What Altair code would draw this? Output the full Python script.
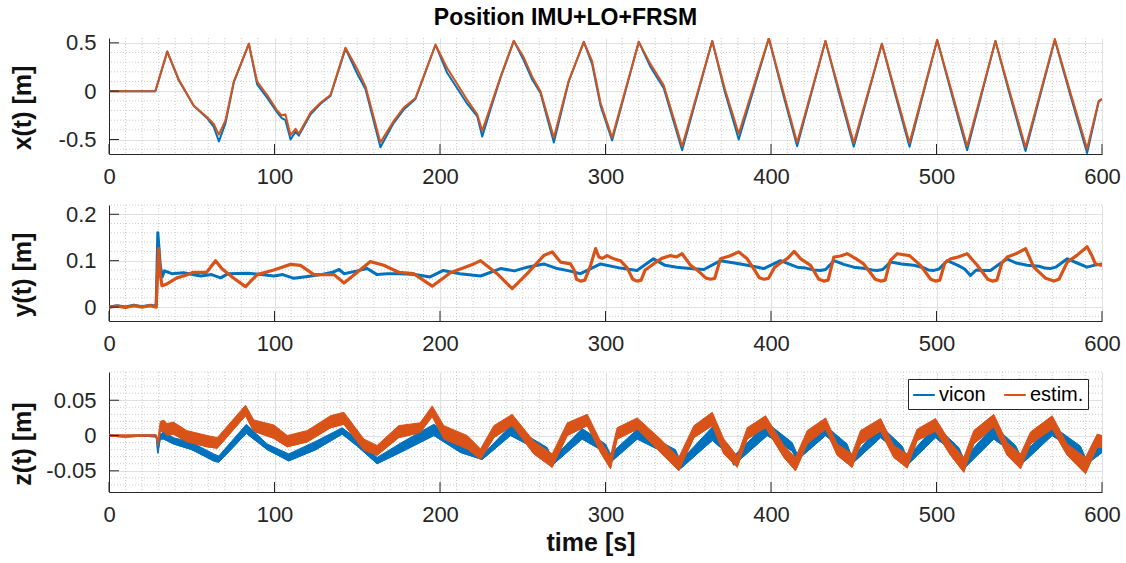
import altair as alt
import pandas as pd

# ---------------- data ----------------
SERIES = ["vicon", "estim."]

# x(t) panel
T_X = [0, 28, 35.2, 42.2, 51.2, 59.3, 63.3, 66.4, 70.4, 75.4, 84.5, 89.5, 95.6, 101.6, 104.4, 106.6,
       109.7, 112.7, 114.7, 121.8, 127.8, 133.8, 142.9, 150, 155, 164, 172, 178.1, 185.2, 197.3, 204.3,
       216.4, 222.5, 225.5, 230.5, 236.6, 244.6, 250.6, 255.7, 260.7, 268.8, 277.8, 286.9, 291.9, 297,
       304, 320.1, 327.2, 335.2, 346.3, 364.5, 372, 380.5, 398.7, 407, 415.8, 432.9, 441, 450, 467,
       475, 483.7, 500.4, 509, 518.5, 535.6, 544, 553.8, 571.5, 581, 591, 598, 600]
VICON_X = [0, 0, 0.41, 0.11, -0.15, -0.28, -0.37, -0.52, -0.33, 0.09, 0.49, 0.07, -0.07, -0.22, -0.28,
           -0.30, -0.50, -0.42, -0.46, -0.24, -0.13, -0.05, 0.44, 0.18, 0.02, -0.58, -0.33, -0.19, -0.08,
           0.48, 0.19, -0.13, -0.26, -0.47, -0.19, 0.14, 0.52, 0.32, 0.12, -0.02, -0.53, 0.10, 0.51, 0.28,
           -0.15, -0.51, 0.51, 0.25, 0.03, -0.61, 0.52, 0.0, -0.50, 0.545, -0.01, -0.57, 0.52, -0.01,
           -0.575, 0.49, -0.03, -0.575, 0.53, -0.02, -0.61, 0.52, -0.02, -0.62, 0.53, -0.05, -0.64,
           -0.11, -0.08]
ESTIM_X = [0, 0, 0.41, 0.12, -0.15, -0.27, -0.34, -0.45, -0.30, 0.10, 0.49, 0.10, -0.04, -0.20, -0.25,
           -0.24, -0.455, -0.39, -0.44, -0.22, -0.12, -0.04, 0.45, 0.23, 0.05, -0.53, -0.31, -0.17, -0.07,
           0.48, 0.24, -0.09, -0.24, -0.41, -0.16, 0.15, 0.52, 0.35, 0.15, 0.0, -0.48, 0.11, 0.51, 0.31,
           -0.12, -0.48, 0.51, 0.28, 0.06, -0.57, 0.52, 0.03, -0.44, 0.55, 0.02, -0.53, 0.52, 0.02,
           -0.535, 0.49, 0.0, -0.535, 0.53, 0.01, -0.57, 0.52, 0.01, -0.58, 0.54, -0.02, -0.595,
           -0.10, -0.08]

# y(t) panel
T_VY = [0, 5, 10, 15, 20, 25, 28.5, 29.5, 31, 32.1, 33.5, 38, 45, 55.3, 62, 67.4, 72, 84, 92, 99.6,
        105, 111.7, 120, 128, 135, 139, 142, 150, 156, 162, 168, 176, 185, 194, 202, 212, 224.5, 236.6,
        245, 252.7, 262.7, 270.8, 278, 284.9, 297, 309, 319, 329, 336, 343, 351, 359.4, 369.5, 381.6,
        389, 395.6,
        405.7, 415.8, 421, 426, 429.9, 433, 438, 444, 450, 457,
        461, 464.2, 467.5, 472.2, 479, 486.3, 492, 495, 498.4, 501.5,
        506.5, 513, 517, 520.5, 524, 529, 532.6, 537, 542.7, 548,
        554.8, 562, 565.5, 568.9, 572, 579, 585, 591, 595, 600]
VICON_Y = [0.0, 0.003, 0.0, 0.004, 0.001, 0.004, 0.002, 0.16, 0.09, 0.065, 0.078, 0.072, 0.074, 0.067,
           0.07, 0.063, 0.072, 0.073, 0.07, 0.067, 0.07, 0.062, 0.066, 0.07, 0.075, 0.081, 0.072, 0.078,
           0.083, 0.07, 0.072, 0.072, 0.07, 0.065, 0.079, 0.072, 0.067, 0.083, 0.078, 0.086, 0.093,
           0.083, 0.078, 0.072, 0.093, 0.084, 0.079, 0.104, 0.09, 0.086, 0.083, 0.081, 0.1, 0.093,
           0.088, 0.083,
           0.1, 0.086, 0.084, 0.08, 0.079, 0.081, 0.1, 0.092, 0.086, 0.083,
           0.08, 0.079, 0.081, 0.097, 0.093, 0.09, 0.085, 0.08, 0.079, 0.082,
           0.1, 0.09, 0.082, 0.068, 0.08, 0.079, 0.079, 0.09, 0.104, 0.095,
           0.09, 0.088, 0.084, 0.083, 0.086, 0.104, 0.095, 0.086, 0.09, 0.093]
T_EY = [0, 5, 10, 15, 20, 25, 28.5, 30, 31, 32, 35, 41, 46, 51, 59, 64.4, 68.4, 75.4, 82.5, 89.5, 99.6,
        109.7, 115.7, 123.8, 136, 142, 150, 158, 166, 175, 184, 195.3, 206.3, 220.4, 224.5, 234.5,
        243.6, 252.7, 262.7, 267.8, 272.8,
        278.9, 281, 282.5, 285, 287.5, 291, 294, 296, 298, 301,
        305, 309, 313, 316.5, 319, 321.5, 324, 329, 334, 339.3,
        343, 346.3, 351.4, 357, 360.5, 363.4, 366, 369.5, 375, 380.5,
        385.6, 390, 393, 395.6, 398.5, 402, 405.7, 410, 414, 418,
        423.9, 428.9, 431.9, 434.5, 438, 442, 446, 451, 456, 463,
        466.2, 469, 472, 476.3, 483.7, 490.3, 496.5, 499.4, 502, 505,
        508.5, 513, 518.5, 524.6, 531, 533.7, 536.5, 539.5, 542.7, 548,
        553.8, 558.8, 566, 570.9, 574, 579, 585, 591, 594, 596,
        600]
ESTIM_Y = [0.0, 0.002, -0.001, 0.003, 0.0, 0.003, 0.0, 0.126, 0.07, 0.046, 0.05, 0.063, 0.068, 0.075,
           0.075, 0.1, 0.082, 0.062, 0.044, 0.07, 0.08, 0.092, 0.09, 0.07, 0.07, 0.052, 0.075, 0.098,
           0.09, 0.075, 0.072, 0.045, 0.074, 0.093, 0.1, 0.072, 0.04, 0.072, 0.111, 0.119, 0.097,
           0.093, 0.08, 0.06, 0.056, 0.058, 0.09, 0.126, 0.108, 0.105, 0.111,
           0.104, 0.1, 0.085, 0.06, 0.056, 0.058, 0.08, 0.093, 0.105, 0.111,
           0.108, 0.115, 0.09, 0.075, 0.063, 0.06, 0.062, 0.104, 0.11, 0.119,
           0.104, 0.08, 0.063, 0.06, 0.062, 0.085, 0.095, 0.105, 0.12, 0.104,
           0.09, 0.06, 0.056, 0.058, 0.108, 0.11, 0.115, 0.105, 0.093, 0.06,
           0.056, 0.058, 0.1, 0.115, 0.111, 0.09, 0.06, 0.056, 0.058, 0.095,
           0.104, 0.108, 0.115, 0.09, 0.06, 0.056, 0.058, 0.095, 0.108, 0.115,
           0.126, 0.086, 0.062, 0.056, 0.06, 0.097, 0.112, 0.13, 0.11, 0.093,
           0.09]

# z(t) panel: the noisy traces read as lower / upper envelopes
T_VZ = [0, 10, 20, 28.5, 29.5, 31, 33, 39, 50, 63.3, 66.3, 83, 95.6, 108.6, 125, 140.9, 150, 162, 176,
        196.3, 212.4, 225.5, 242.6,
        264.8, 267.8, 285.9, 300, 303, 319.2, 342.3, 345.3, 364.5, 374.5, 377.5, 397.7, 412.8, 415.8,
        433, 446, 449, 466.2, 479.3, 482.3, 499.4, 513.5, 516.5, 534.6, 547.8, 550.8, 569.9, 587, 590,
        600]
VICON_Z_LO = [-0.001, -0.002, -0.001, -0.002, -0.025, -0.005, -0.005, -0.012, -0.02, -0.036, -0.038,
              0.003, -0.02, -0.036, -0.02, 0.002, -0.015, -0.04, -0.024, 0.0, -0.024, -0.034, 0.0,
              -0.027, -0.042, -0.005, -0.024, -0.038, -0.005, -0.032, -0.047, -0.007, -0.027, -0.042,
              0.0, -0.022, -0.035, 0.0, -0.026, -0.04, -0.003, -0.027, -0.042, -0.003, -0.03, -0.047,
              -0.005, -0.027, -0.042, 0.0, -0.027, -0.042, -0.024]
VICON_Z_HI = [0.001, 0.0, 0.001, 0.001, -0.018, 0.002, 0.005, -0.003, -0.01, -0.026, -0.029, 0.016,
              -0.012, -0.026, -0.008, 0.011, -0.005, -0.031, -0.011, 0.016, -0.012, -0.028, 0.014,
              -0.017, -0.033, 0.01, -0.012, -0.026, 0.009, -0.02, -0.036, 0.012, -0.015, -0.029,
              0.018, -0.01, -0.026, 0.014, -0.012, -0.031, 0.014, -0.015, -0.031, 0.014, -0.017, -0.033,
              0.014, -0.014, -0.029, 0.014, -0.015, -0.031, -0.012]
T_EZ = [0, 10, 20, 28.5, 29.5, 31, 33, 35, 39, 47, 59.3, 65.4, 82.5, 87.5, 99.6, 107.7, 119.8, 133.8,
        141.9, 154, 162, 175, 188, 195.3, 202.3, 216.4, 224.5, 232.5, 243.6, 256.7, 267.8, 276.9, 289,
        297, 303, 307, 319.2, 333.2, 344.3, 353.4, 364.5, 371.5, 379.6, 385.6, 396.7, 407.8, 414.8,
        421.9, 433, 440, 449, 454.1, 466.2, 474.2, 482.3, 488.3, 499.4, 508.5, 516.5, 522.5, 534.6,
        542.7, 550.8, 556.8, 569.9, 579, 590, 597.1, 600]
ESTIM_Z_LO = [-0.001, -0.002, -0.001, -0.001, -0.015, 0.006, 0.006, 0.0, 0.002, -0.009, -0.016, -0.018,
              0.028, 0.006, -0.004, -0.016, -0.009, 0.011, 0.016, -0.021, -0.028, -0.003, 0.004, 0.027,
              -0.005, -0.019, -0.034, -0.003, 0.014, -0.026, -0.045, 0.0, 0.014, -0.024, -0.047, -0.005,
              0.009, -0.024, -0.05, -0.003, 0.014, -0.026, -0.045, -0.005, 0.011, -0.031, -0.05, -0.012,
              0.009, -0.028, -0.045, -0.012, 0.006, -0.031, -0.046, -0.007, 0.006, -0.028, -0.052,
              -0.012, 0.012, -0.028, -0.047, -0.012, 0.009, -0.028, -0.054, -0.017, -0.017]
ESTIM_Z_HI = [0.001, 0.001, 0.001, 0.001, -0.005, 0.02, 0.022, 0.017, 0.019, 0.007, 0.0, -0.003, 0.043,
              0.022, 0.015, 0.0, 0.007, 0.028, 0.033, -0.005, -0.014, 0.014, 0.018, 0.042, 0.014, 0.0,
              -0.019, 0.014, 0.03, -0.008, -0.026, 0.018, 0.03, -0.008, -0.029, 0.011, 0.025, -0.005,
              -0.031, 0.014, 0.033, -0.005, -0.029, 0.011, 0.028, -0.014, -0.031, 0.007, 0.025, -0.012,
              -0.026, 0.007, 0.024, -0.014, -0.026, 0.009, 0.024, -0.01, -0.031, 0.007, 0.03, -0.01,
              -0.026, 0.005, 0.028, -0.012, -0.031, 0.002, 0.0]

# ticks / grid positions
X_TICKS = [0, 100, 200, 300, 400, 500, 600]
X_MINOR = [10, 20, 30, 40, 50, 60, 70, 80, 90, 110, 120, 130, 140, 150, 160, 170, 180, 190,
           210, 220, 230, 240, 250, 260, 270, 280, 290, 310, 320, 330, 340, 350, 360, 370, 380, 390,
           410, 420, 430, 440, 450, 460, 470, 480, 490, 510, 520, 530, 540, 550, 560, 570, 580, 590]
Y1_TICKS = [-0.5, 0, 0.5]
Y1_MINOR = [-0.6, -0.4, -0.3, -0.2, -0.1, 0.1, 0.2, 0.3, 0.4]
Y2_TICKS = [0, 0.1, 0.2]
Y2_MINOR = [-0.02, 0.02, 0.04, 0.06, 0.08, 0.12, 0.14, 0.16, 0.18, 0.22]
Y3_TICKS = [-0.05, 0, 0.05]
Y3_MINOR = [-0.07, -0.06, -0.04, -0.03, -0.02, -0.01, 0.01, 0.02, 0.03, 0.04, 0.06, 0.07, 0.08, 0.09]

# ---------------- style ----------------
FONT = "Liberation Sans"
DARK = "#262626"
GRID = "#e0e0e0"
MINOR = "#cccccc"
BLUE = "#0072BD"
ORANGE = "#D95319"
W = 993
LABEL_EXPR = "replace(datum.label, '\u2212', '-')"


def panel(H, ydom, yticks, yminor, ytitle, series_layers, xtitle=None):
    xs = alt.Scale(domain=[0, 600], nice=False, zero=False)
    ys = alt.Scale(domain=ydom, nice=False, zero=False)
    xkw = dict(values=X_TICKS, format="d", labelExpr=LABEL_EXPR, ticks=False, labelPadding=12,
               labelFontSize=22, labelColor=DARK, domainColor=DARK, domainWidth=1, grid=True,
               gridColor=GRID, gridWidth=1, labelFlush=False, labelOverlap=False)
    if xtitle:
        xkw.update(title=xtitle, titleFontSize=25, titleFontWeight="bold", titleColor="#111",
                   titleX=481.5, titleY=58, titleBaseline="alphabetic", titleAlign="center")
    xa = alt.Axis(**xkw)
    ya = alt.Axis(values=yticks, format="~g", labelExpr=LABEL_EXPR, ticks=False, labelPadding=13,
                  labelFontSize=22, labelColor=DARK, domainColor=DARK, domainWidth=1, grid=True,
                  gridColor=GRID, gridWidth=1, labelOverlap=False, title=ytitle, titleFontSize=25,
                  titleFontWeight="bold", titleColor="#111", titleX=-73.5, titleY=H / 2 + 11.5,
                  titleBaseline="bottom", titleAlign="center", titleAngle=270)

    def X():
        if xtitle:
            return alt.X("t:Q", scale=xs, axis=xa)
        return alt.X("t:Q", scale=xs, axis=xa, title=None)

    def Y(field="v"):
        return alt.Y(f"{field}:Q", scale=ys, axis=ya, title=ytitle)

    minor_x = alt.Chart(pd.DataFrame({"t": X_MINOR})).mark_rule(
        color=MINOR, strokeDash=[1, 2], strokeWidth=1).encode(x=X())
    minor_y = alt.Chart(pd.DataFrame({"v": yminor})).mark_rule(
        color=MINOR, strokeDash=[1, 2], strokeWidth=1).encode(y=Y())
    tick_x = alt.Chart(pd.DataFrame({"t": X_TICKS})).mark_rule(color=DARK, strokeWidth=1).encode(
        x=X(), y=alt.value(H - 10), y2=alt.value(H))
    tick_y = alt.Chart(pd.DataFrame({"v": yticks})).mark_rule(color=DARK, strokeWidth=1).encode(
        y=Y(), x=alt.value(0), x2=alt.value(10))

    layers = [minor_x, minor_y] + [f(X, Y) for f in series_layers] + [tick_x, tick_y]
    return alt.layer(*layers).properties(width=W, height=H)


def line_layer(t, v, color, width):
    df = pd.DataFrame({"t": t, "v": v})
    return lambda X, Y: alt.Chart(df).mark_line(color=color, strokeWidth=width, clip=True,
                                                  strokeJoin="round").encode(x=X(), y=Y())


def band_layer(t, lo, hi, color):
    df = pd.DataFrame({"t": t, "lo": lo, "hi": hi})
    return lambda X, Y: alt.Chart(df).mark_area(color=color, opacity=1, clip=True, stroke=color,
                                                  strokeWidth=1).encode(
        x=X(), y=Y("lo"), y2=alt.Y2("hi:Q"))


def legend_layer():
    df = pd.concat([
        pd.DataFrame({"t": T_VZ, "v": VICON_Z_LO, "series": SERIES[0]}),
        pd.DataFrame({"t": T_EZ, "v": ESTIM_Z_LO, "series": SERIES[1]}),
    ])
    leg = alt.Legend(title=None, orient="none", legendX=799, legendY=7, direction="horizontal",
                     symbolType="stroke", symbolSize=470, symbolStrokeWidth=2, labelFontSize=20,
                     labelColor="#000", labelFont=FONT, labelOffset=3, columnPadding=14, padding=4,
                     strokeColor="#262626", fillColor="white",
                     labelExpr="datum.label == 'estim.' ? 'estim.\u00a0\u00a0\u00a0\u00a0' : datum.label")
    return lambda X, Y: alt.Chart(df).mark_line(strokeWidth=1, clip=True).encode(
        x=X(), y=Y(), detail="series:N",
        stroke=alt.Stroke("series:N", scale=alt.Scale(domain=SERIES, range=[BLUE, ORANGE]),
                          legend=leg))


p1 = panel(116, [-0.65, 0.55], Y1_TICKS, Y1_MINOR, "x(t) [m]",
           [line_layer(T_X, VICON_X, BLUE, 2), line_layer(T_X, ESTIM_X, ORANGE, 2)])
p2 = panel(116, [-0.03, 0.22], Y2_TICKS, Y2_MINOR, "y(t) [m]",
           [line_layer(T_VY, VICON_Y, BLUE, 3), line_layer(T_EY, ESTIM_Y, ORANGE, 3.2)])
p3 = panel(120, [-0.08, 0.09], Y3_TICKS, Y3_MINOR, "z(t) [m]",
           [legend_layer(),
            band_layer(T_VZ, VICON_Z_LO, VICON_Z_HI, BLUE),
            band_layer(T_EZ, ESTIM_Z_LO, ESTIM_Z_HI, ORANGE)],
           xtitle="time [s]")

chart = alt.vconcat(p1, p2, p3, spacing=51, bounds="flush").resolve_scale(
    y="independent", stroke="independent").resolve_legend(stroke="independent").properties(
    title=alt.TitleParams(text="Position IMU+LO+FRSM", fontSize=23, fontWeight="bold", color="#000",
                          anchor="middle", offset=1, font=FONT),
    padding={"left": 10, "top": 7, "right": 5, "bottom": 0},
).configure(font=FONT).configure_view(stroke="transparent")

chart.save("out.html", embed_options={"renderer": "svg", "actions": False})
